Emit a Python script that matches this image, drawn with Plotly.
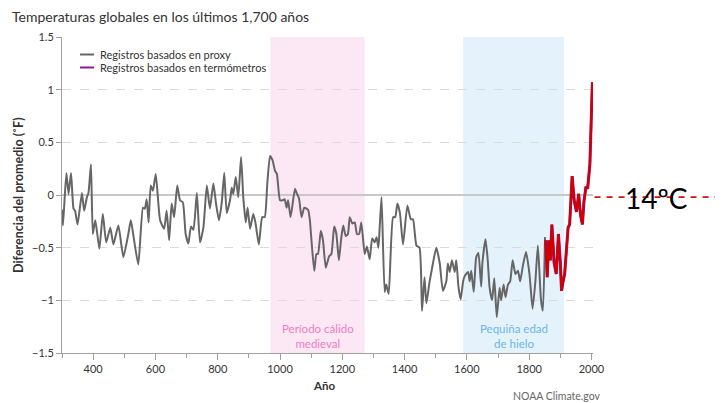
import plotly.graph_objects as go

# ---------------- data ----------------
proxy_years = [300, 303, 314, 321, 329, 337, 342, 350, 364, 371, 380, 385, 393, 399, 407, 420, 431, 442,
               455, 465, 481, 497, 513, 521, 530, 545, 560, 566, 572, 578, 585, 592, 601, 615, 628, 636,
               644, 652, 660, 670, 679, 688, 697, 706, 714, 722, 733, 743, 754, 765, 775, 786, 794, 804,
               813, 821, 829, 840, 845, 850, 858, 866, 875, 882, 890, 896, 904, 914, 921, 932, 943, 951,
               959, 968, 976, 984, 990, 1000, 1008, 1015, 1021, 1026, 1034, 1048, 1053, 1061, 1069, 1078,
               1090, 1096, 1101, 1110, 1117, 1122, 1131, 1138, 1147, 1158, 1165, 1174, 1181, 1189, 1197,
               1203, 1211, 1218, 1224, 1232, 1240, 1247, 1254, 1261, 1272, 1279, 1288, 1296, 1304, 1310,
               1316, 1320, 1326, 1336, 1341, 1349, 1363, 1370, 1377, 1385, 1395, 1409, 1420, 1427, 1438,
               1448, 1456, 1464, 1470, 1480, 1491, 1502, 1513, 1523, 1534, 1539, 1545, 1552, 1561, 1566,
               1573, 1580, 1588, 1593, 1604, 1609, 1614, 1622, 1630, 1637, 1646, 1650, 1660, 1667, 1673,
               1681, 1688, 1696, 1705, 1710, 1718, 1724, 1732, 1739, 1747, 1756, 1764, 1771, 1780, 1790,
               1801, 1811, 1820, 1828, 1838, 1844, 1851]
proxy_values = [-0.14, -0.29, 0.21, 0.01, 0.21, -0.13, -0.15, -0.28, 0.02, -0.15, -0.02, 0.02, 0.29, -0.37,
                -0.24, -0.51, -0.18, -0.45, -0.31, -0.47, -0.29, -0.59, -0.37, -0.24, -0.40, -0.66, -0.12,
                -0.13, -0.04, -0.26, 0.09, 0.04, 0.20, -0.24, -0.32, -0.15, -0.43, -0.08, -0.21, 0.09, -0.05,
                -0.07, -0.37, -0.46, -0.30, -0.33, 0.02, -0.45, -0.31, 0.09, -0.13, 0.11, -0.07, -0.24, -0.07,
                0.21, -0.17, -0.04, 0.07, 0.01, 0.17, -0.02, 0.36, -0.02, -0.26, -0.12, -0.32, -0.18, -0.26,
                -0.47, -0.21, -0.21, 0.10, 0.37, 0.33, 0.23, 0.20, -0.05, -0.05, -0.04, -0.12, -0.05, -0.21,
                0.06, 0.02, -0.03, -0.21, -0.12, -0.14, -0.24, -0.43, -0.72, -0.56, -0.56, -0.34, -0.43,
                -0.69, -0.58, -0.56, -0.30, -0.37, -0.62, -0.40, -0.29, -0.39, -0.37, -0.21, -0.27, -0.26,
                -0.37, -0.37, -0.26, -0.56, -0.49, -0.61, -0.41, -0.45, -0.40, -0.50, -0.31, -0.02, -0.92,
                -0.85, -0.94, -0.21, -0.21, -0.08, -0.17, -0.47, -0.10, -0.23, -0.23, -0.48, -0.50, -1.10,
                -0.78, -1.03, -0.83, -0.65, -0.50, -0.65, -0.91, -0.82, -0.65, -0.73, -0.62, -0.73, -0.62,
                -0.87, -0.99, -0.82, -0.77, -0.73, -0.82, -0.72, -0.92, -0.59, -0.55, -0.87, -0.64, -0.42,
                -0.62, -0.88, -1.00, -0.79, -1.16, -0.88, -1.00, -0.85, -0.97, -0.85, -0.82, -0.62, -0.75,
                -0.72, -0.82, -0.67, -0.54, -0.75, -1.08, -0.82, -0.48, -1.00, -1.10, -0.40]

thermo_years = [1853, 1858, 1863, 1868, 1873, 1880, 1887, 1894, 1900, 1904, 1909, 1914, 1920, 1925, 1930,
                1938, 1945, 1952, 1959, 1965, 1971, 1976, 1982, 1988, 1995, 2000, 2003]
thermo_values = [-0.43, -0.78, -0.43, -0.62, -0.28, -0.64, -0.75, -0.37, -0.64, -0.91, -0.82, -0.75, -0.51,
                 -0.31, -0.28, 0.18, -0.06, -0.16, 0.01, -0.19, -0.28, -0.06, 0.07, 0.07, 0.29, 0.96, 1.07]

periods = ["Período cálido<br>medieval", "Pequiña edad<br>de hielo"]
period_start = [969, 1588]
period_end = [1272, 1912]
period_fill = ["#fce8f4", "#e4f3fb"]
period_text = ["#f07cc2", "#6ab6e6"]

y_ticks = [-1.5, -1, -0.5, 0, 0.5, 1, 1.5]
y_ticklabels = ["\u22121.5", "\u22121", "\u22120.5", "0", "0.5", "1", "1.5"]
x_ticks = [400, 600, 800, 1000, 1200, 1400, 1600, 1800, 2000]

baseline_label = "14ºC"
baseline_value = -0.02

# ---------------- layout helpers ----------------
W, H = 723, 403
OFF = 8  # page body margin of the html page
PL, PR, PT, PB = 62, 593, 37, 353   # plot area in screen pixels
PW, PH = PR - PL, PB - PT
L, T = PL - OFF, PT - OFF
R, B = W - (PR - OFF), H - (PB - OFF)
def px(x):  # screen pixel x -> paper
    return (x - PL) / PW
def py(y):  # screen pixel y -> paper
    return 1 - (y - PT) / PH

FONT = "Lato"
fig = go.Figure()

fig.add_trace(go.Scatter(x=proxy_years, y=proxy_values, mode="lines",
                         line=dict(color="#666666", width=2, shape="spline", smoothing=0.5),
                         showlegend=False, name="Registros basados en proxy"))
fig.add_trace(go.Scatter(x=thermo_years, y=thermo_values, mode="lines",
                         line=dict(color="#8e1b8e", width=3), showlegend=False,
                         name="Registros basados en termómetros"))
fig.add_trace(go.Scatter(x=thermo_years, y=thermo_values, mode="lines",
                         line=dict(color="#d10000", width=2.3), showlegend=False,
                         hoverinfo="skip"))

shapes = []
annotations = []
for name, s, e, fc, tc in zip(periods, period_start, period_end, period_fill, period_text):
    shapes.append(dict(type="rect", xref="x", yref="paper", x0=s, x1=e, y0=0, y1=1,
                       fillcolor=fc, line=dict(width=0), layer="below"))
    annotations.append(dict(x=(s + e) / 2, y=py(336), xref="x", yref="paper", text=name,
                            showarrow=False, align="center", xanchor="center", yanchor="middle",
                            font=dict(family=FONT, size=11.5, color=tc)))

# baseline 14ºC dashed line outside the plot
shapes.append(dict(type="line", xref="paper", yref="y", x0=1.003, x1=px(W + 5),
                   y0=baseline_value, y1=baseline_value,
                   line=dict(color="#c81414", width=1.6, dash="6px,6px")))
annotations.append(dict(x=px(656), y=py(198), xref="paper", yref="paper", text=baseline_label,
                        showarrow=False, xanchor="center", yanchor="middle",
                        font=dict(family=FONT, size=28, color="#000000")))

# manual legend
leg_items = [("Registros basados en proxy", "#666666", 54.5),
             ("Registros basados en termómetros", "#8e1b8e", 67.5)]
for txt, col, yy in leg_items:
    shapes.append(dict(type="line", xref="paper", yref="paper", x0=px(80), x1=px(94),
                       y0=py(yy), y1=py(yy), line=dict(color=col, width=2)))
    annotations.append(dict(x=px(98), y=py(yy), xref="paper", yref="paper", text=txt,
                            showarrow=False, xanchor="left", yanchor="middle",
                            font=dict(family=FONT, size=11, color="#333333")))

# axis titles & credits
annotations.append(dict(x=px(18), y=py(195), xref="paper", yref="paper",
                        text="<b>Diferencia del promedio (˚F)</b>", textangle=-90,
                        showarrow=False, xanchor="center", yanchor="middle",
                        font=dict(family=FONT, size=12.5, color="#333333")))
annotations.append(dict(x=px(324), y=py(386), xref="paper", yref="paper", text="<b>Año</b>",
                        showarrow=False, xanchor="center", yanchor="middle",
                        font=dict(family=FONT, size=11.5, color="#333333")))
annotations.append(dict(x=px(603), y=py(396), xref="paper", yref="paper", text="NOAA Climate.gov",
                        showarrow=False, xanchor="right", yanchor="middle",
                        font=dict(family=FONT, size=10.5, color="#666666")))

fig.update_layout(
    width=W, height=H,
    margin=dict(l=L, r=R, t=T, b=B, autoexpand=False),
    paper_bgcolor="white", plot_bgcolor="white",
    font=dict(family=FONT, size=11, color="#333333"),
    title=dict(text="Temperaturas globales en los últimos 1,700 años", x=(12 - OFF) / W, xref="container",
               xanchor="left", y=1 - (17 - OFF) / H, yref="container", yanchor="middle",
               font=dict(family=FONT, size=14, color="#333333")),
    shapes=shapes, annotations=annotations, showlegend=False,
    xaxis=dict(range=[300, 2005], tickvals=x_ticks, showgrid=False, zeroline=False,
               showline=True, linecolor="#a0a0a0", linewidth=1,
               ticks="outside", ticklen=6, tickcolor="#a0a0a0",
               minor=dict(dtick=100, tick0=300, ticks="outside", ticklen=4, tickcolor="#a0a0a0"),
               tickfont=dict(family=FONT, size=11, color="#333333")),
    yaxis=dict(range=[-1.5, 1.5], tickvals=y_ticks, ticktext=y_ticklabels,
               showgrid=True, gridcolor="#dadada", griddash="dash", gridwidth=1,
               zeroline=True, zerolinecolor="#c8c8c8", zerolinewidth=1.5,
               showline=True, linecolor="#a0a0a0", linewidth=1,
               ticks="outside", ticklen=5, tickcolor="#a0a0a0",
               tickfont=dict(family=FONT, size=11, color="#333333")),
)

fig.write_html("out.html")
